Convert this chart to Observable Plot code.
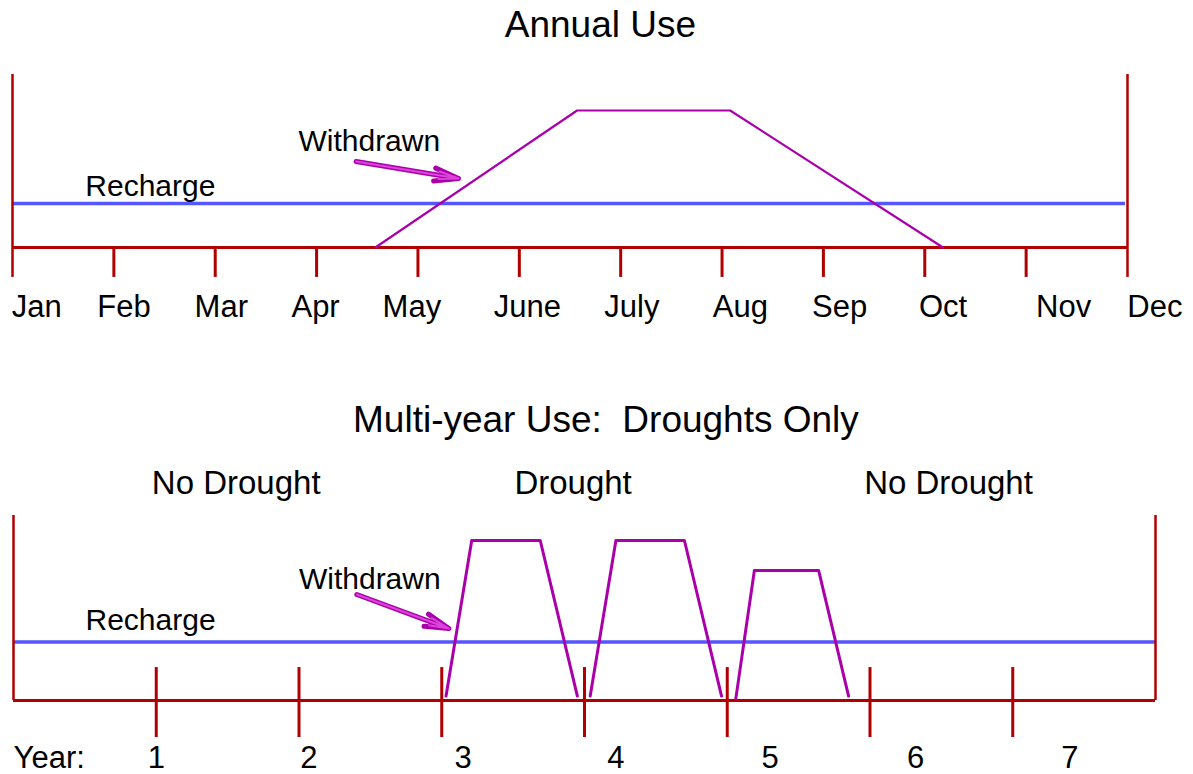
<!DOCTYPE html>
<html><head><meta charset="utf-8">
<script src="https://cdn.jsdelivr.net/npm/d3@7"></script>
<script src="https://cdn.jsdelivr.net/npm/@observablehq/plot@0.6"></script>
<style>body{margin:0;background:#fff;} svg{display:block;}</style>
</head><body><div id="chart"></div>
<script>
// ---------- Annual panel data (x in months from Jan=0, y in arbitrary units, baseline 0) ----------
const months = ["Jan","Feb","Mar","Apr","May","June","July","Aug","Sep","Oct","Nov","Dec"];
const monthTicks = [0,1,2,3,4,5,6,7,8,9,10,11];
const monthLabelPos = [0.24,1.10,2.06,2.99,3.94,5.08,6.11,7.18,8.16,9.18,10.37,11.27];
const annualWithdrawnX = [3.58,5.57,7.08,9.18];
const annualWithdrawnY = [0,79.2,79.2,0];
const annualRecharge = 25.4;
const annualTitle = "Annual Use";

// ---------- Multi-year panel data (x in years, y arbitrary units) ----------
const yearTicks = [1,2,3,4,5,6,7];
const yearLabels = ["Year:","1","2","3","4","5","6","7"];
const yearLabelPos = [0.25,1.0,2.07,3.15,4.22,5.30,6.32,7.40];
const periodLabels = ["No Drought","Drought","No Drought"];
const periodLabelPos = [1.56,3.92,6.55];
const droughtWithdrawnX = [
  [3.03,3.21,3.69,3.95],
  [4.04,4.22,4.70,4.96],
  [5.06,5.19,5.64,5.85]
];
const droughtWithdrawnY = [
  [2.4,86.5,86.5,2.4],
  [2.4,86.5,86.5,2.4],
  [1.0,70.3,70.3,2.4]
];
const multiRecharge = 31.6;
const multiTitle = "Multi-year Use:  Droughts Only";

const RED = "#b00000", BLUE = "#5656ff", PURPLE = "#aa00aa", PINK = "#dd44dd";
const FONT = "'Liberation Sans', Arial, Helvetica, sans-serif";

function arrowMarks(a) {
  const ch = {x1: "x1", y1: "y1", x2: "x2", y2: "y2", bend: 0};
  return [
    Plot.arrow([a], {...ch, stroke: PURPLE, strokeWidth: 5, headAngle: 30, headLength: 7.5}),
    Plot.arrow([a], {...ch, stroke: PINK, strokeWidth: 2, headAngle: 22, headLength: 15})
  ];
}

// ---------- Top panel ----------
const annualLine = annualWithdrawnX.map((x,i) => ({x, y: annualWithdrawnY[i]}));
const topPanel = Plot.plot({
  width: 1193, height: 360,
  margin: 0,
  style: {fontFamily: FONT, background: "white", overflow: "visible"},
  x: {type: "linear", domain: [0, 11], range: [12, 1127], axis: null},
  y: {type: "linear", domain: [0, 100], range: [247, 74], axis: null},
  marks: [
    Plot.ruleY([annualRecharge], {x1: 0, x2: 10.98, stroke: BLUE, strokeWidth: 3.5}),
    Plot.ruleY([0], {x1: 0, x2: 11, stroke: RED, strokeWidth: 3}),
    Plot.ruleX([0, 11], {y1: -17.3, y2: 100, stroke: RED, strokeWidth: 2.5}),
    Plot.ruleX(monthTicks.slice(1, -1), {y1: -17.3, y2: 0, stroke: RED, strokeWidth: 3}),
    Plot.line(annualLine, {x: "x", y: "y", stroke: PURPLE, strokeWidth: 2.2}),
    ...arrowMarks({x1: 3.39, y1: 49.7, x2: 4.40, y2: 39.9}),
    Plot.text(months, {x: (d,i) => monthLabelPos[i], y: () => -34.7, text: d => d, fontSize: 31, fill: "black"}),
    Plot.text([annualTitle], {x: () => 5.80, y: () => 128.3, text: d => d, fontSize: 37, fill: "black"}),
    Plot.text(["Recharge"], {x: () => 1.36, y: () => 35.3, text: d => d, fontSize: 30, fill: "black"}),
    Plot.text(["Withdrawn"], {x: () => 3.52, y: () => 61.3, text: d => d, fontSize: 30, fill: "black"})
  ]
});

// ---------- Bottom panel ----------
const droughtLines = droughtWithdrawnX.flatMap((xs, k) => xs.map((x, i) => ({x, y: droughtWithdrawnY[k][i], k})));
const bottomPanel = Plot.plot({
  width: 1193, height: 414,
  margin: 0,
  style: {fontFamily: FONT, background: "white", overflow: "visible"},
  x: {type: "linear", domain: [0, 8], range: [13, 1155], axis: null},
  y: {type: "linear", domain: [0, 100], range: [340, 155], axis: null},
  marks: [
    Plot.ruleY([multiRecharge], {x1: 0, x2: 8, stroke: BLUE, strokeWidth: 3.5}),
    Plot.ruleY([0], {x1: 0, x2: 8, stroke: RED, strokeWidth: 3}),
    Plot.ruleX([0, 8], {y1: 0, y2: 100, stroke: RED, strokeWidth: 2.5}),
    Plot.ruleX(yearTicks, {y1: -20, y2: 17.8, stroke: RED, strokeWidth: 3}),
    Plot.line(droughtLines, {x: "x", y: "y", z: "k", stroke: PURPLE, strokeWidth: 3}),
    ...arrowMarks({x1: 2.405, y1: 57.3, x2: 3.05, y2: 38.9}),
    Plot.text(yearLabels, {x: (d,i) => yearLabelPos[i], y: () => -31.0, text: d => d, fontSize: 31, fill: "black"}),
    Plot.text(periodLabels, {x: (d,i) => periodLabelPos[i], y: () => 117.3, text: d => d, fontSize: 33, fill: "black"}),
    Plot.text([multiTitle], {x: () => 4.15, y: () => 151.4, text: d => d, fontSize: 37, fill: "black"}),
    Plot.text(["Recharge"], {x: () => 0.96, y: () => 43.2, text: d => d, fontSize: 30, fill: "black"}),
    Plot.text(["Withdrawn"], {x: () => 2.496, y: () => 65.4, text: d => d, fontSize: 30, fill: "black"})
  ]
});

const root = document.getElementById("chart");
root.appendChild(topPanel);
root.appendChild(bottomPanel);
</script>
</body></html>
